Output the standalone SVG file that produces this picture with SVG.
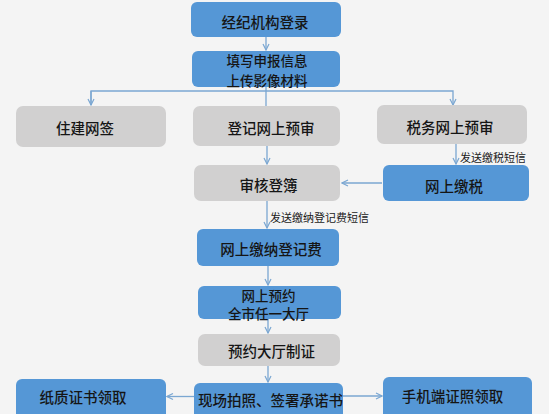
<svg xmlns="http://www.w3.org/2000/svg" width="549" height="414" viewBox="0 0 549 414">
<style>
.blue{fill:#5597d6;}
.gray{fill:#d1d0d0;}
.t{font-family:"Noto Sans CJK SC","Noto Sans",sans-serif;font-size:14.5px;font-weight:500;fill:#151515;text-anchor:middle;dominant-baseline:central;}
.t2{font-size:13.5px;}
.s{font-family:"Noto Sans CJK SC","Noto Sans",sans-serif;font-size:11px;fill:#1a1a1a;dominant-baseline:central;}
.c{stroke:#7ba7d2;stroke-width:1.3;fill:none;}
</style>
<defs>
<marker id="ah" viewBox="0 0 8 8" refX="7" refY="4" markerWidth="8" markerHeight="8" markerUnits="userSpaceOnUse" orient="auto">
<path d="M1,1 L7,4 L1,7" fill="none" stroke="#7ba7d2" stroke-width="1.2"/>
</marker>
</defs>
<rect x="0" y="0" width="549" height="414" fill="#f4f4f4"/>
<g id="connectors">
<line class="c" x1="266" y1="37" x2="266" y2="50" marker-end="url(#ah)"/>
<line class="c" x1="266" y1="87" x2="266" y2="106"/>
<polyline class="c" points="91,105 91,91 453,91 453,105" marker-end="url(#ah)"/>
<line class="c" x1="91" y1="91" x2="91" y2="105" marker-end="url(#ah)"/>
<line class="c" x1="267" y1="146" x2="267" y2="164" marker-end="url(#ah)"/>
<line class="c" x1="456" y1="144" x2="456" y2="164" marker-end="url(#ah)"/>
<line class="c" x1="382" y1="183" x2="342" y2="183" marker-end="url(#ah)"/>
<line class="c" x1="267" y1="201" x2="267" y2="228" marker-end="url(#ah)"/>
<line class="c" x1="268" y1="266" x2="268" y2="285" marker-end="url(#ah)"/>
<line class="c" x1="268" y1="319" x2="268" y2="333" marker-end="url(#ah)"/>
<line class="c" x1="268" y1="366" x2="268" y2="382" marker-end="url(#ah)"/>
<line class="c" x1="194" y1="396.5" x2="167" y2="396.5" marker-end="url(#ah)"/>
<line class="c" x1="343" y1="396" x2="382" y2="396" marker-end="url(#ah)"/>
<text class="s" x="460" y="157">发送缴税短信</text>
<text class="s" x="270" y="217">发送缴纳登记费短信</text>
</g>
<g id="n1"><rect class="blue" x="191" y="2" width="150" height="35" rx="6"/><text class="t" x="265" y="21">经纪机构登录</text></g>
<g id="n2"><rect class="blue" x="192" y="51" width="148" height="36" rx="6"/><text class="t t2" x="267" y="60">填写申报信息</text><text class="t t2" x="267" y="79.5">上传影像材料</text></g>
<g id="n3"><rect class="gray" x="16" y="106" width="150" height="41" rx="7"/><text class="t" x="85" y="127.5">住建网签</text></g>
<g id="n4"><rect class="gray" x="193" y="106" width="147" height="40" rx="7"/><text class="t" x="271" y="127">登记网上预审</text></g>
<g id="n5"><rect class="gray" x="377" y="105" width="150" height="39" rx="7"/><text class="t" x="450" y="126.5">税务网上预审</text></g>
<g id="n6"><rect class="blue" x="383" y="165" width="146" height="36" rx="6"/><text class="t" x="454" y="185.5">网上缴税</text></g>
<g id="n7"><rect class="gray" x="194" y="165" width="146" height="36" rx="7"/><text class="t" x="268.5" y="184">审核登簿</text></g>
<g id="n8"><rect class="blue" x="197" y="229" width="142" height="37" rx="6"/><text class="t" x="271" y="248">网上缴纳登记费</text></g>
<g id="n9"><rect class="blue" x="198" y="286" width="143" height="33" rx="6"/><text class="t t2" x="268.5" y="294.5">网上预约</text><text class="t t2" x="268.5" y="313">全市任一大厅</text></g>
<g id="n10"><rect class="gray" x="198" y="334" width="142" height="32" rx="7"/><text class="t" x="271.5" y="350.5">预约大厅制证</text></g>
<g id="n11"><rect class="blue" x="194" y="383" width="149" height="40" rx="6"/><text class="t" x="270.5" y="399">现场拍照、签署承诺书</text></g>
<g id="n12"><rect class="blue" x="16" y="379" width="150" height="44" rx="6"/><text class="t" x="83" y="396.5">纸质证书领取</text></g>
<g id="n13"><rect class="blue" x="383" y="377" width="149" height="46" rx="6"/><text class="t" x="452.5" y="395">手机端证照领取</text></g>
</svg>
